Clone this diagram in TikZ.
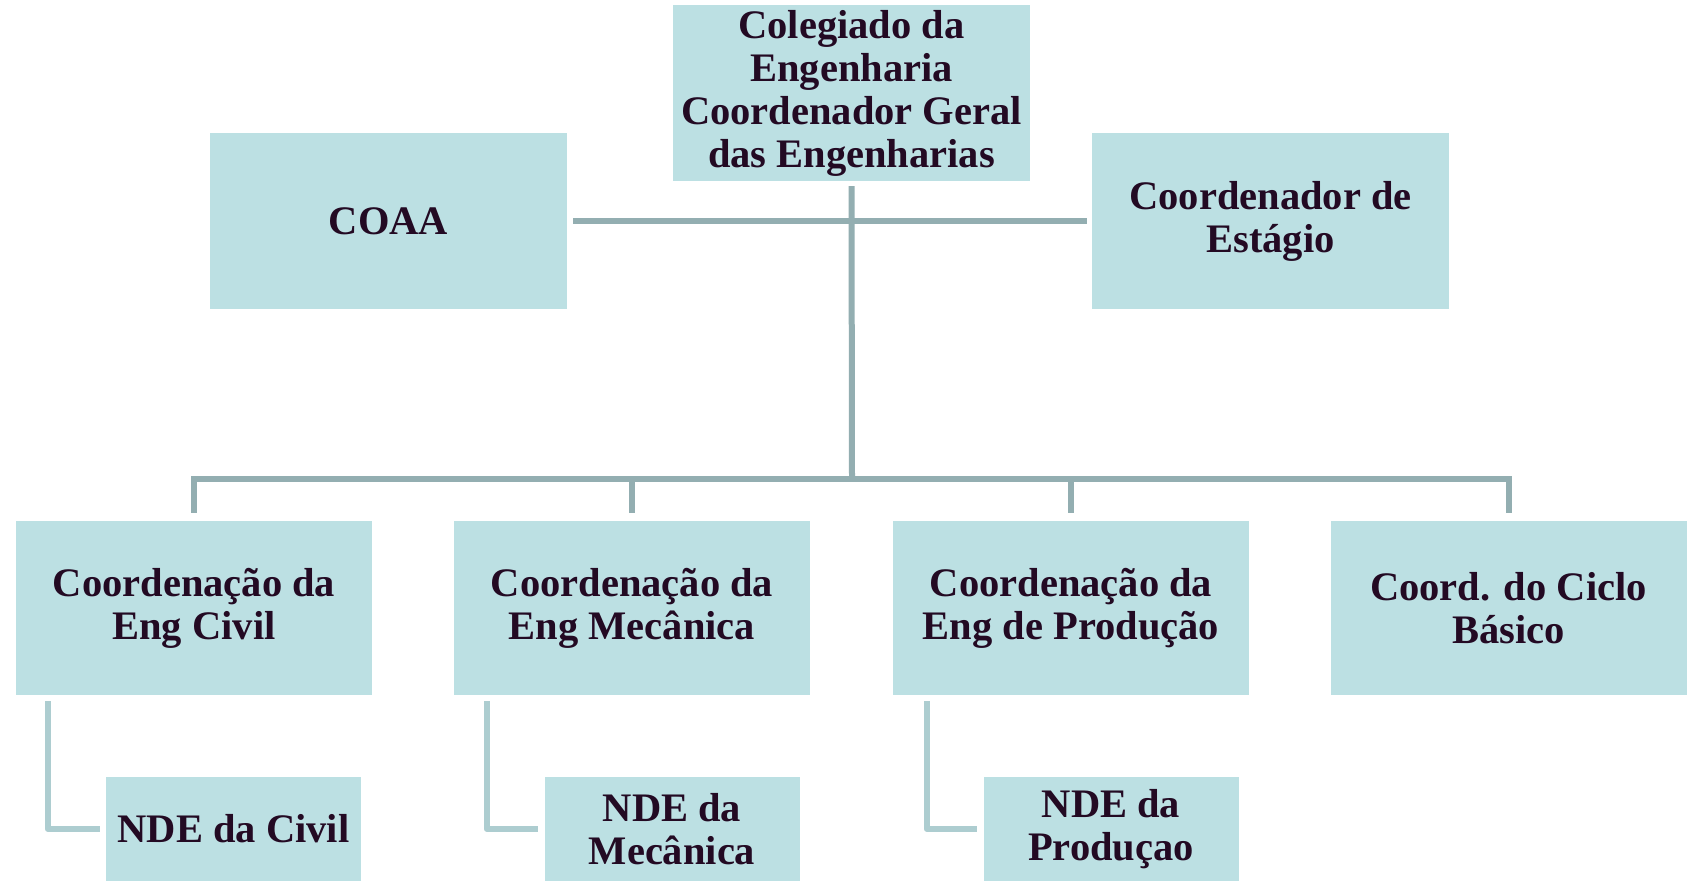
\documentclass[tikz,border=0pt]{standalone}
\usepackage{fontspec}
\setmainfont{Liberation Serif}
\definecolor{boxfill}{HTML}{BCE0E3}
\definecolor{conncol}{HTML}{93AEB1}
\definecolor{elbowcol}{HTML}{ADCDD0}
\definecolor{txtcol}{HTML}{230A23}
\begin{document}
\begin{tikzpicture}[x=1pt,y=-1pt,
  box/.style={rectangle, fill=boxfill, draw=none, inner sep=0pt, align=center,
    text=txtcol, font=\fontsize{40.5}{43}\selectfont\bfseries},
  conn/.style={draw=conncol, line width=6pt},
  elbow/.style={draw=elbowcol, line width=6pt, line join=round}]
\clip (0,0) rectangle (1687,883);
\fill[white] (0,0) rectangle (1687,883);
% top row
\node[box, minimum width=357pt, minimum height=176pt] (top) at (851.5,93) {Colegiado da\\Engenharia\\Coordenador Geral\\das Engenharias};
\node[box, minimum width=357pt, minimum height=176pt] (coaa) at (388.5,221) {COAA};
\node[box, minimum width=357pt, minimum height=176pt] (est) at (1270.5,221) {Coordenador de\\Estágio};
% bottom row
\node[box, minimum width=356pt, minimum height=174pt] (civ) at (194,608) {Coordenação da\\Eng Civil};
\node[box, minimum width=356pt, minimum height=174pt] (mec) at (632,608) {Coordenação da\\Eng Mecânica};
\node[box, minimum width=356pt, minimum height=174pt] (prod) at (1071,608) {Coordenação da\\Eng de Produção};
\node[box, minimum width=356pt, minimum height=174pt] (cb) at (1508.5,608) {Coord. do Ciclo\\Básico};
% NDE row
\node[box, minimum width=255pt, minimum height=104pt] (ndec) at (233.5,829) {NDE da Civil};
\node[box, minimum width=255pt, minimum height=104pt] (ndem) at (672,829) {NDE da\\Mecânica};
\node[box, minimum width=255pt, minimum height=104pt] (ndep) at (1111,829) {NDE da\\Produçao};
% connectors
\coordinate (bus) at (852,479);
\draw[conn, shorten <=6pt, shorten >=5pt] (coaa.east) -- (est.west);
\draw[conn, shorten <=5pt] (top.south) -- (bus);
\draw[conn, shorten <=8pt, shorten >=8pt] (civ.north) |- (bus) -| (cb.north);
\draw[conn, shorten <=8pt] (mec.north) -- (mec.north |- bus);
\draw[conn, shorten <=8pt] (prod.north) -- (prod.north |- bus);
\draw[elbow, shorten <=6pt, shorten >=6pt] ([xshift=32pt]civ.south west) |- (ndec.west);
\draw[elbow, shorten <=6pt, shorten >=6pt] ([xshift=33pt]mec.south west) |- (ndem.west);
\draw[elbow, shorten <=6pt, shorten >=6pt] ([xshift=34pt]prod.south west) |- (ndep.west);
\end{tikzpicture}
\end{document}
